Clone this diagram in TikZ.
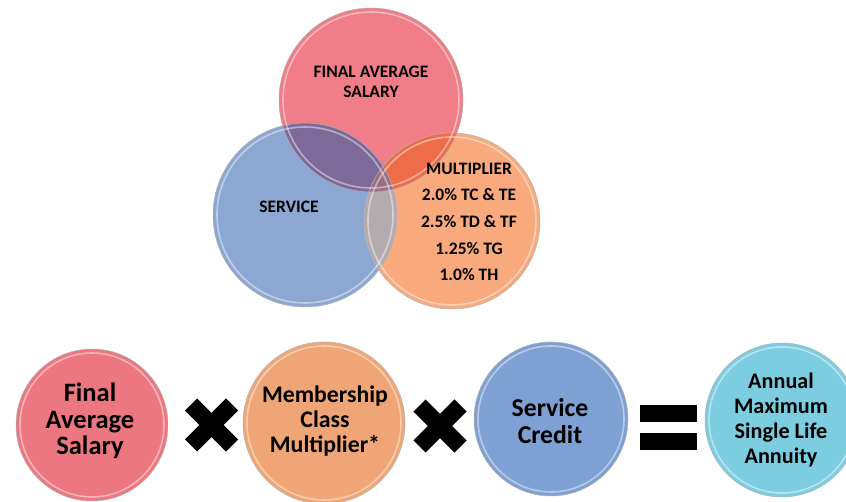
\documentclass[tikz,border=0pt]{standalone}
\usepackage{fontspec}
\setmainfont{Carlito}
\definecolor{vred}{HTML}{F07D87}
\definecolor{vblue}{HTML}{8CA8D2}
\definecolor{vorange}{HTML}{F8AA7D}
\definecolor{vpurple}{HTML}{7E6A99}
\definecolor{vredor}{HTML}{EE6C47}
\definecolor{vgrey}{HTML}{B4ABAE}
\definecolor{vtriple}{HTML}{9C6E86}
\definecolor{bred}{HTML}{EC7780}
\definecolor{borange}{HTML}{F0A576}
\definecolor{bblue}{HTML}{7EA0D3}
\definecolor{bcyan}{HTML}{7DCDE1}
\begin{document}
\begin{tikzpicture}[x=1pt,y=-1pt,
  ball/.style={circle, inner sep=0pt, minimum size=#1},
  edge/.style={draw=black!30, line width=0.5pt},
  rim/.style={white, opacity=0.45, line width=1.6pt},
  vtxt/.style={font=\fontsize{17.5}{20}\selectfont\bfseries, align=center, text=black},
  mtxt/.style={font=\fontsize{17.5}{26.7}\selectfont\bfseries, align=center, text=black},
  rtxt/.style={font=\fontsize{26.5}{26.7}\selectfont\bfseries, align=center, text=black},
  otxt/.style={font=\fontsize{23.8}{25}\selectfont\bfseries, align=center, text=black},
  stxt/.style={font=\fontsize{25.7}{27}\selectfont\bfseries, align=center, text=black},
  ctxt/.style={font=\fontsize{22.2}{25}\selectfont\bfseries, align=center, text=black},
  timesarm/.style={line width=17pt, line cap=butt, black},
  eqbar/.style={fill=black}
]
\useasboundingbox (0,0) rectangle (846,502);
\fill[white] (0,0) rectangle (846,502);

% ---------- Venn diagram ----------
\node[ball=184pt, fill=vred] (fas) at (371,100) {};
\node[ball=184pt, fill=vblue] (svc) at (305,215) {};
\node[ball=176pt, fill=vorange] (mul) at (452,221) {};
\begin{scope}
  \clip (fas.center) circle[radius=92pt];
  \fill[vpurple] (svc.center) circle[radius=92pt];
\end{scope}
\begin{scope}
  \clip (fas.center) circle[radius=92pt];
  \fill[vredor] (mul.center) circle[radius=88pt];
\end{scope}
\begin{scope}
  \clip (svc.center) circle[radius=92pt];
  \fill[vgrey] (mul.center) circle[radius=88pt];
\end{scope}
\begin{scope}
  \clip (svc.center) circle[radius=92pt];
  \clip (fas.center) circle[radius=92pt];
  \fill[vtriple] (mul.center) circle[radius=88pt];
\end{scope}
\draw[edge] (fas.center) circle[radius=92pt];
\draw[edge] (svc.center) circle[radius=92pt];
\draw[edge] (mul.center) circle[radius=88pt];
\draw[rim] (fas.center) circle[radius=88pt];
\draw[rim] (svc.center) circle[radius=88pt];
\draw[rim] (mul.center) circle[radius=84pt];

\node[vtxt] (tfas) at (371,82) {FINAL AVERAGE\\SALARY};
\node[vtxt] (tsvc) at (289,207) {SERVICE};
\node[mtxt] (tmul) at (469,222) {MULTIPLIER\\2.0\% TC \& TE\\2.5\% TD \& TF\\1.25\% TG\\1.0\% TH};

% ---------- Formula row ----------
\node[ball=152pt, fill=bred] (b1) at (92,425) {};
\node[ball=162pt, fill=borange] (b2) at (324,423) {};
\node[ball=154pt, fill=bblue] (b3) at (551,419) {};
\node[ball=154pt, fill=bcyan] (b4) at (782,420) {};
\draw[edge] (b1.center) circle[radius=76pt];
\draw[edge] (b2.center) circle[radius=81pt];
\draw[edge] (b3.center) circle[radius=77pt];
\draw[edge] (b4.center) circle[radius=77pt];
\draw[rim] (b1.center) circle[radius=72pt];
\draw[rim] (b2.center) circle[radius=77pt];
\draw[rim] (b3.center) circle[radius=73pt];
\draw[rim] (b4.center) circle[radius=73pt];

\node[rtxt] (t1) at (90,421) {Final\\Average\\Salary};
\node[otxt] (t2) at (325,421) {Membership\\Class\\Multiplier*};
\node[stxt] (t3) at (550,421) {Service\\Credit};
\node[ctxt] (t4) at (781,420) {Annual\\Maximum\\Single Life\\Annuity};

% times signs
\coordinate (x1) at (211.5,425);
\coordinate (x2) at (440,426);
\foreach \c in {x1,x2}{
  \draw[timesarm] ([shift={(-20.5,-20.5)}]\c) -- ([shift={(20.5,20.5)}]\c);
  \draw[timesarm] ([shift={(-20.5,20.5)}]\c) -- ([shift={(20.5,-20.5)}]\c);
}
% equals sign
\coordinate (eq) at (668.5,427.5);
\fill[eqbar] ([shift={(-28.5,-22.5)}]eq) rectangle ([shift={(28.5,-5.5)}]eq);
\fill[eqbar] ([shift={(-28.5,5.5)}]eq) rectangle ([shift={(28.5,22.5)}]eq);
\end{tikzpicture}
\end{document}
